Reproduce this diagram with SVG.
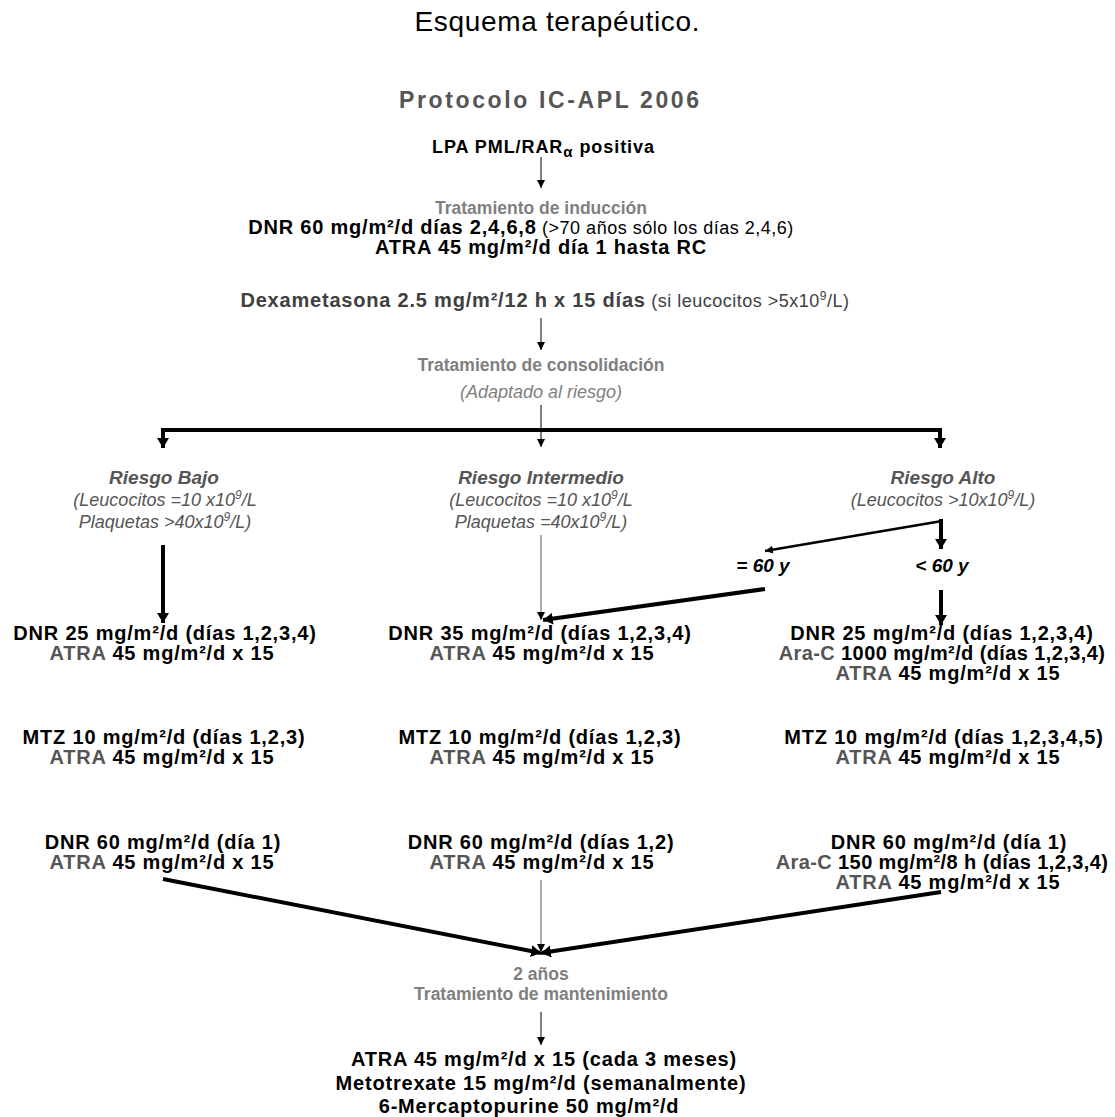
<svg xmlns="http://www.w3.org/2000/svg" width="1115" height="1117" viewBox="0 0 1115 1117">
<style>
text{font-family:"Liberation Sans",Arial,sans-serif;text-anchor:middle}
.b{font-weight:bold;fill:#000;font-size:20px;letter-spacing:0.8px}
.t{letter-spacing:0.4px}
.h{font-weight:bold;fill:#7f7f7f;font-size:17.5px}
.gi{font-style:italic;fill:#555;font-size:18px}
.bi{font-style:italic;font-weight:bold;fill:#555;font-size:19px}
.g{fill:#555}
.n{font-weight:normal}
.thin{stroke:#000;stroke-width:1;fill:none}
.grey{stroke:#777;stroke-width:1.2;fill:none}
.thick{stroke:#000;stroke-width:4;fill:none}
.med{stroke:#000;stroke-width:2.5;fill:none}
</style>
<defs>
<marker id="as" markerUnits="userSpaceOnUse" markerWidth="10" markerHeight="10" refX="8" refY="4" orient="auto"><path d="M0,0 L8,4 L0,8 Z" fill="#000"/></marker>
<marker id="al" markerUnits="userSpaceOnUse" markerWidth="14" markerHeight="14" refX="10" refY="6" orient="auto"><path d="M0,0 L10,6 L0,12 Z" fill="#000"/></marker>
</defs>
<rect width="1115" height="1117" fill="#fff"/>
<g id="title"><text x="557" y="31" style="font-size:28px;fill:#000" textLength="285">Esquema terapéutico.</text></g>
<g id="protocolo"><text x="549" y="108" style="font-size:23px;font-weight:bold;fill:#555" textLength="300">Protocolo IC-APL 2006</text></g>
<g id="lpa"><text x="543" y="153" style="font-size:18px;font-weight:bold;fill:#000" textLength="222">LPA PML/RAR<tspan style="font-size:15px" dy="4">α</tspan><tspan dy="-4"> positiva</tspan></text></g>
<g id="induccion">
<text x="541" y="214" class="h">Tratamiento de inducción</text>
<text x="521" y="234" class="b">DNR 60 mg/m²/d días 2,4,6,8<tspan class="n" style="font-size:18px;letter-spacing:0.5px"> (&gt;70 años sólo los días 2,4,6)</tspan></text>
<text x="541" y="254" class="b">ATRA 45 mg/m²/d día 1 hasta RC</text>
</g>
<g id="dexametasona"><text x="545" y="307" class="b" style="fill:#404040">Dexametasona 2.5 mg/m²/12 h x 15 días<tspan class="n" style="font-size:18px;letter-spacing:0.5px"> (si leucocitos &gt;5x10<tspan dy="-7" style="font-size:12px">9</tspan><tspan dy="7">/L)</tspan></tspan></text></g>
<g id="consolidacion">
<text x="541" y="371" class="h">Tratamiento de consolidación</text>
<text x="541" y="398" class="gi" style="fill:#7f7f7f">(Adaptado al riesgo)</text>
</g>
<g id="riesgo-bajo">
<text x="164" y="484" class="bi">Riesgo Bajo</text>
<text x="165" y="506" class="gi">(Leucocitos =10 x10<tspan dy="-7" style="font-size:12px">9</tspan><tspan dy="7">/L</tspan></text>
<text x="165" y="528" class="gi">Plaquetas &gt;40x10<tspan dy="-7" style="font-size:12px">9</tspan><tspan dy="7">/L)</tspan></text>
</g>
<g id="riesgo-intermedio">
<text x="541" y="484" class="bi">Riesgo Intermedio</text>
<text x="541" y="506" class="gi">(Leucocitos =10 x10<tspan dy="-7" style="font-size:12px">9</tspan><tspan dy="7">/L</tspan></text>
<text x="541" y="528" class="gi">Plaquetas =40x10<tspan dy="-7" style="font-size:12px">9</tspan><tspan dy="7">/L)</tspan></text>
</g>
<g id="riesgo-alto">
<text x="943" y="484" class="bi">Riesgo Alto</text>
<text x="943" y="506" class="gi">(Leucocitos &gt;10x10<tspan dy="-7" style="font-size:12px">9</tspan><tspan dy="7">/L)</tspan></text>
</g>
<g id="edad-mayor"><text x="763" y="572" class="bi" style="fill:#000">= 60 y</text></g>
<g id="edad-menor"><text x="942" y="572" class="bi" style="fill:#000">&lt; 60 y</text></g>
<g id="bajo-tratamiento">
<text x="165" y="640" class="b">DNR 25  mg/m²/d (días 1,2,3,4)</text>
<text x="162" y="660" class="b"><tspan class="g">ATRA</tspan> 45 mg/m²/d x 15</text>
<text x="164" y="744" class="b">MTZ 10 mg/m²/d (días 1,2,3)</text>
<text x="162" y="764" class="b"><tspan class="g">ATRA</tspan> 45 mg/m²/d x 15</text>
<text x="163" y="849" class="b">DNR 60 mg/m²/d (día 1)</text>
<text x="162" y="869" class="b"><tspan class="g">ATRA</tspan> 45 mg/m²/d x 15</text>
</g>
<g id="intermedio-tratamiento">
<text x="540" y="640" class="b">DNR 35  mg/m²/d (días 1,2,3,4)</text>
<text x="542" y="660" class="b"><tspan class="g">ATRA</tspan> 45 mg/m²/d x 15</text>
<text x="540" y="744" class="b">MTZ 10 mg/m²/d (días 1,2,3)</text>
<text x="542" y="764" class="b"><tspan class="g">ATRA</tspan> 45 mg/m²/d x 15</text>
<text x="541" y="849" class="b">DNR 60 mg/m²/d (días 1,2)</text>
<text x="542" y="869" class="b"><tspan class="g">ATRA</tspan> 45 mg/m²/d x 15</text>
</g>
<g id="alto-tratamiento">
<text x="942" y="640" class="b">DNR 25  mg/m²/d (días 1,2,3,4)</text>
<text x="942" y="660" class="b t"><tspan class="g">Ara-C</tspan> 1000 mg/m²/d (días 1,2,3,4)</text>
<text x="948" y="680" class="b"><tspan class="g">ATRA</tspan> 45 mg/m²/d x 15</text>
<text x="944" y="744" class="b">MTZ 10 mg/m²/d (días 1,2,3,4,5)</text>
<text x="948" y="764" class="b"><tspan class="g">ATRA</tspan> 45 mg/m²/d x 15</text>
<text x="949" y="849" class="b">DNR 60 mg/m²/d (día 1)</text>
<text x="942" y="869" class="b t"><tspan class="g">Ara-C</tspan> 150 mg/m²/8 h (días 1,2,3,4)</text>
<text x="948" y="889" class="b"><tspan class="g">ATRA</tspan> 45 mg/m²/d x 15</text>
</g>
<g id="mantenimiento">
<text x="541" y="980" class="h">2 años</text>
<text x="541" y="1000" class="h">Tratamiento de mantenimiento</text>
<text x="544" y="1066" class="b">ATRA 45 mg/m²/d x 15 (cada 3 meses)</text>
<text x="541" y="1090" class="b">Metotrexate 15 mg/m²/d (semanalmente)</text>
<text x="529" y="1113" class="b">6-Mercaptopurine 50 mg/m²/d</text>
</g>
<g id="connectors">
<line class="thin" x1="541" y1="157" x2="541" y2="188" marker-end="url(#as)"/>
<line class="thin" x1="541" y1="318" x2="541" y2="350" marker-end="url(#as)"/>
<line class="thin" x1="541" y1="405" x2="541" y2="447" marker-end="url(#as)"/>
<path class="thick" d="M161,430 L942,430"/>
<line class="thick" x1="163" y1="428" x2="163" y2="448" marker-end="url(#al)"/>
<line class="thick" x1="940" y1="428" x2="940" y2="448" marker-end="url(#al)"/>
<line class="thick" x1="163" y1="545" x2="163" y2="623" marker-end="url(#al)"/>
<line class="grey" x1="541" y1="535" x2="541" y2="620" marker-end="url(#as)"/>
<line class="med" x1="942" y1="521" x2="765" y2="551" marker-end="url(#as)"/>
<line class="thick" x1="941" y1="519" x2="941" y2="549" marker-end="url(#al)"/>
<line class="thick" x1="765" y1="589" x2="543" y2="620" marker-end="url(#al)"/>
<line class="thick" x1="941" y1="590" x2="941" y2="625" marker-end="url(#al)"/>
<line class="thick" x1="163" y1="879" x2="541" y2="953" marker-end="url(#al)"/>
<line class="thick" x1="941" y1="892" x2="541" y2="953" marker-end="url(#al)"/>
<line class="grey" x1="541" y1="880" x2="541" y2="952" marker-end="url(#as)"/>
<line class="thin" x1="541" y1="1012" x2="541" y2="1045" marker-end="url(#as)"/>
</g>
</svg>
